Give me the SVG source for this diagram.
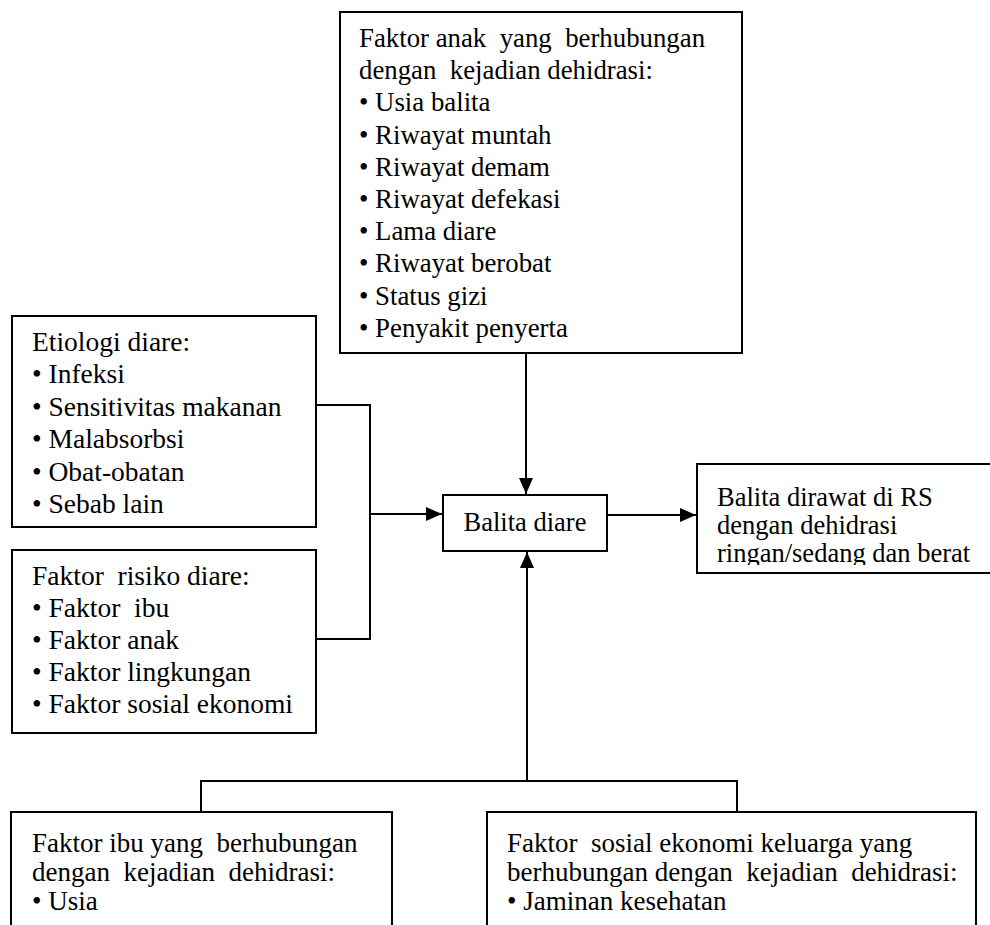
<svg xmlns="http://www.w3.org/2000/svg" width="990" height="925" viewBox="0 0 990 925">
<style>
.box{fill:#fff;stroke:#000;stroke-width:2}
.c{fill:none;stroke:#000;stroke-width:2}
.t{font-family:'Liberation Serif',serif;font-size:26.8px;fill:#000}
.l{font-family:'Liberation Serif',serif;font-size:27.5px;fill:#000}
.m{font-family:'Liberation Serif',serif;font-size:26.5px;fill:#000}
.b{font-family:'Liberation Serif',serif;font-size:27px;fill:#000}
</style>
<defs>
<marker id="ah" markerUnits="userSpaceOnUse" markerWidth="16" markerHeight="14" refX="16" refY="7" orient="auto">
<path d="M0,0 L16,7 L0,14 z" fill="#000"/>
</marker>
<clipPath id="clipR"><rect x="690" y="460" width="300" height="105"/></clipPath>
</defs>
<rect width="990" height="925" fill="#fff"/>

<g id="connectors">
<line class="c" x1="526" y1="353" x2="526" y2="494" marker-end="url(#ah)"/>
<polyline class="c" points="316,405 370,405 370,639 316,639"/>
<line class="c" x1="370" y1="514" x2="442" y2="514" marker-end="url(#ah)"/>
<line class="c" x1="607" y1="515" x2="696" y2="515" marker-end="url(#ah)"/>
<line class="c" x1="527" y1="781" x2="527" y2="552" marker-end="url(#ah)"/>
<polyline class="c" points="201,812 201,781 737,781 737,812"/>
</g>

<g id="faktor-anak">
<rect class="box" x="340" y="12" width="402" height="341"/>
<text class="t" x="359" y="47" xml:space="preserve">Faktor anak  yang  berhubungan</text>
<text class="t" x="359" y="79" xml:space="preserve">dengan  kejadian dehidrasi:</text>
<text class="t" x="359" y="111">• Usia balita</text>
<text class="t" x="359" y="144">• Riwayat muntah</text>
<text class="t" x="359" y="176">• Riwayat demam</text>
<text class="t" x="359" y="208">• Riwayat defekasi</text>
<text class="t" x="359" y="240">• Lama diare</text>
<text class="t" x="359" y="272">• Riwayat berobat</text>
<text class="t" x="359" y="305">• Status gizi</text>
<text class="t" x="359" y="337">• Penyakit penyerta</text>
</g>

<g id="etiologi">
<rect class="box" x="12" y="316" width="304" height="211"/>
<text class="l" x="32" y="351">Etiologi diare:</text>
<text class="l" x="32" y="383">• Infeksi</text>
<text class="l" x="32" y="416">• Sensitivitas makanan</text>
<text class="l" x="32" y="448">• Malabsorbsi</text>
<text class="l" x="32" y="481">• Obat-obatan</text>
<text class="l" x="32" y="513">• Sebab lain</text>
</g>

<g id="faktor-risiko">
<rect class="box" x="12" y="550" width="304" height="183"/>
<text class="l" x="32" y="585" xml:space="preserve">Faktor  risiko diare:</text>
<text class="l" x="32" y="617" xml:space="preserve">• Faktor  ibu</text>
<text class="l" x="32" y="649">• Faktor anak</text>
<text class="l" x="32" y="681">• Faktor lingkungan</text>
<text class="l" x="32" y="713">• Faktor sosial ekonomi</text>
</g>

<g id="balita-diare">
<rect class="box" x="443" y="495" width="164" height="56"/>
<text class="m" x="525" y="531" text-anchor="middle">Balita diare</text>
</g>

<g id="balita-dirawat">
<path class="box" d="M995,464 H697 V573 H995"/>
<text class="m" x="717" y="506">Balita dirawat di RS</text>
<text class="m" x="717" y="534">dengan dehidrasi</text>
<text class="m" x="717" y="562" clip-path="url(#clipR)">ringan/sedang dan berat</text>
</g>

<g id="faktor-ibu">
<path class="box" d="M11,930 V812 H392 V930"/>
<text class="b" x="32" y="852" xml:space="preserve">Faktor ibu yang  berhubungan</text>
<text class="b" x="32" y="881" xml:space="preserve">dengan  kejadian  dehidrasi:</text>
<text class="b" x="32" y="910">• Usia</text>
</g>

<g id="faktor-sosial">
<path class="box" d="M487,930 V812 H976 V930"/>
<text class="b" x="507" y="852" xml:space="preserve">Faktor  sosial ekonomi keluarga yang</text>
<text class="b" x="507" y="881" xml:space="preserve">berhubungan dengan  kejadian  dehidrasi:</text>
<text class="b" x="507" y="910">• Jaminan kesehatan</text>
</g>
</svg>
